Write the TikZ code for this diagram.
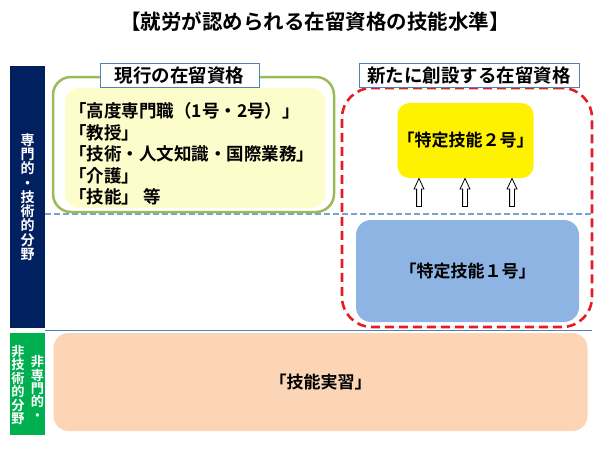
\documentclass[tikz,border=0pt]{standalone}
\usepackage{fontspec}
\setmainfont{Noto Sans CJK JP}[BoldFont={Noto Sans CJK JP Bold}]
\usetikzlibrary{shapes.arrows}

\definecolor{barnavy}{RGB}{0,32,96}
\definecolor{bargreen}{RGB}{0,176,80}
\definecolor{framegreen}{RGB}{155,187,89}
\definecolor{paleyellow}{RGB}{253,253,204}
\definecolor{tagblue}{RGB}{79,129,189}
\definecolor{newred}{RGB}{228,28,36}
\definecolor{skillblue}{RGB}{141,180,226}
\definecolor{traineepeach}{RGB}{251,213,181}
\definecolor{lineblue}{RGB}{123,161,208}

\begin{document}
\begin{tikzpicture}[x=1pt,y=-1pt,
  box/.style={inner sep=0pt, rounded corners=#1},
  tag/.style={draw=tagblue, line width=0.8pt, fill=white, inner sep=0pt,
    font=\bfseries\fontsize{18.5}{20}\selectfont},
  sidetext/.style 2 args={text=white, align=center, inner sep=0pt,
    font=\bfseries\fontsize{#1}{#2}\selectfont},
  uparrow/.style={single arrow, draw, fill=white, line width=0.8pt,
    shape border rotate=90, minimum height=28, minimum width=9, inner sep=2pt,
    single arrow head extend=2.5pt, single arrow tip angle=50}]

\useasboundingbox (0,0) rectangle (607,452);

\node [font=\bfseries\fontsize{20.5}{24}\selectfont] (title) at (315,22) {【就労が認められる在留資格の技能水準】};

% field bars on the left
\node [fill=barnavy, minimum width=35, minimum height=262, inner sep=0pt] (specbar) at (27.5,197) {};
\node [sidetext={14}{14.3}] (spectext) at (specbar.center) {専\\門\\的\\・\\技\\術\\的\\分\\野};
\node [fill=bargreen, minimum width=35, minimum height=102, inner sep=0pt] (nonspecbar) at (27.5,384) {};
\node [sidetext={13.2}{13.4}] (nonspecA) at (37.5,388) {非\\専\\門\\的\\・};
\node [sidetext={13.2}{13.4}] (nonspecB) at (18,385) {非\\技\\術\\的\\分\\野};

\coordinate (midL) at (45,214);
\coordinate (midR) at (592,214);
\draw [lineblue, line width=1.5pt, dash pattern=on 6pt off 3pt] (midL) -- (midR);
\coordinate (lowL) at (45,330.5);
\coordinate (lowR) at (592,330.5);
\draw [tagblue, line width=1pt] (lowL) -- (lowR);

% current statuses
\node [box=18, draw=framegreen, line width=2.5pt, fill=white, minimum width=281, minimum height=135] (current) at (193.5,144.5) {};
\node [box=14, fill=paleyellow, minimum width=260, minimum height=120] (currentin) at (195,148) {};
\node [anchor=west, align=left, inner sep=0pt, font=\bfseries\fontsize{17.5}{21.5}\selectfont] (currentlist) at (69,154)
  {「高度専門職（1号・2号）」\\「教授」\\「技術・人文知識・国際業務」\\「介護」\\「技能」 等};
\node [tag, minimum width=159, minimum height=24] (currenttag) at (179.5,75) {現行の在留資格};

% new statuses
\node [box=30, draw=newred, line width=2.6pt, dash pattern=on 9pt off 5pt, minimum width=250, minimum height=239] (newframe) at (467,207.5) {};
\node [tag, minimum width=220, minimum height=24] (newtag) at (469,75) {新たに創設する在留資格};
\node [box=12, fill=yellow, minimum width=135, minimum height=75, font=\bfseries\fontsize{17}{20}\selectfont] (skill2) at (465.5,140.5) {「特定技能２号」};
\node [box=15, fill=skillblue, minimum width=223, minimum height=102, font=\bfseries\fontsize{17}{20}\selectfont] (skill1) at (467.5,271) {「特定技能１号」};
\foreach \x [count=\i] in {419,465,512}
  \node [uparrow] (up\i) at (\x,195) {};

\node [box=15, fill=traineepeach, minimum width=534, minimum height=98, font=\bfseries\fontsize{17}{20}\selectfont] (trainee) at (320.5,382) {「技能実習」};

\end{tikzpicture}
\end{document}
